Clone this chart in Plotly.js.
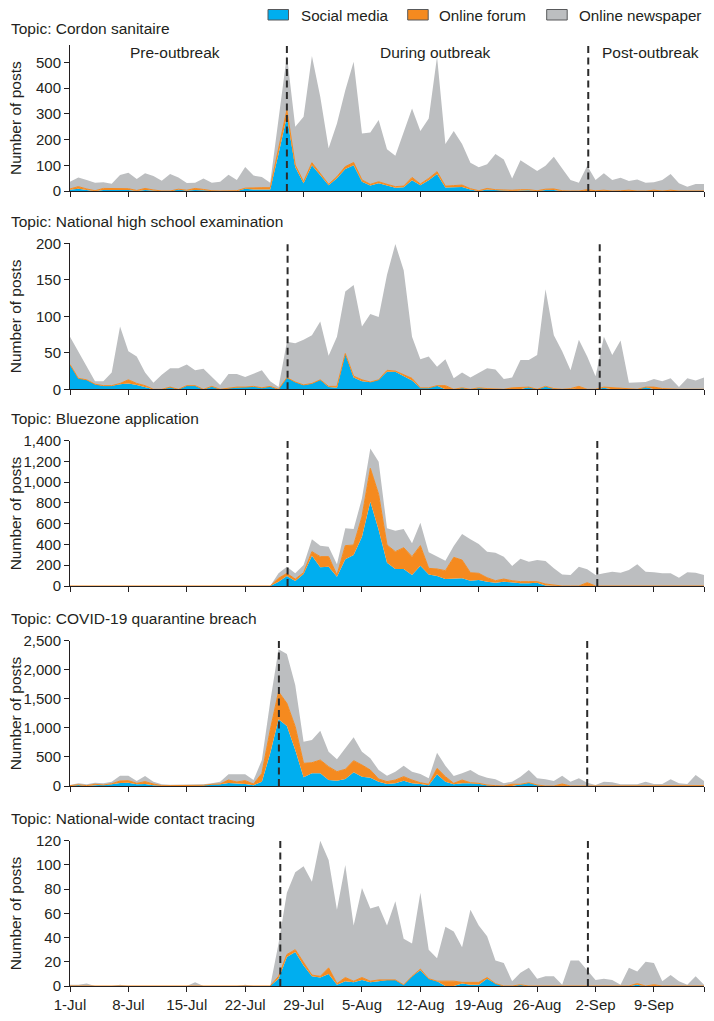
<!DOCTYPE html>
<html><head><meta charset="utf-8">
<script src="https://cdn.plot.ly/plotly-3.0.1.min.js"></script>
<style>html,body{margin:0;padding:0;background:#fff}#chart{width:714px;height:1021px}</style>
</head><body><div id="chart"></div>
<script>
// ---- categories ----
const startDate = [2020, 6, 1];           // 1-Jul-2020
const nDays = 77;                          // 1-Jul .. 15-Sep
const dates = [];
for (let i = 0; i < nDays; i++) {
  dates.push(new Date(Date.UTC(startDate[0], startDate[1], startDate[2] + i)).toISOString().slice(0, 10));
}
const tickDates = ['2020-07-01','2020-07-08','2020-07-15','2020-07-22','2020-07-29','2020-08-05','2020-08-12','2020-08-19','2020-08-26','2020-09-02','2020-09-09','2020-09-15'];
const tickLabels = ['1-Jul','8-Jul','15-Jul','22-Jul','29-Jul','5-Aug','12-Aug','19-Aug','26-Aug','2-Sep','9-Sep',''];

const seriesNames = ['Social media','Online forum','Online newspaper'];
const topics = ['Topic: Cordon sanitaire','Topic: National high school examination','Topic: Bluezone application','Topic: COVID-19 quarantine breach','Topic: National-wide contact tracing'];
const yMax = [568, 200, 1400, 2500, 120];
const yStep = [100, 50, 200, 500, 20];
const outbreakStart = ['2020-07-27 00:00','2020-07-27 02:00','2020-07-27 02:00','2020-07-26 01:00','2020-07-26 05:00'];
const outbreakEnd = ['2020-09-01 03:00','2020-09-02 12:00','2020-09-02 05:00','2020-09-01 00:00','2020-09-01 02:00'];
const periodLabels = ['Pre-outbreak','During outbreak','Post-outbreak'];

// ---- Topic 1: Cordon sanitaire ----
const social1 = [5,9,4,0,4,4,4,4,0,4,2,0,0,6,2,4,3,0,0,0,0,9,6,6,6,145,290,92,30,100,62,22,50,86,100,36,21,30,21,13,15,42,22,42,66,14,15,16,6,0,6,4,1,0,2,3,0,4,4,0,0,0,0,0,0,0,0,0,0,0,0,0,0,0,0,0,0];
const forum1  = [3,8,4,1,6,5,5,5,2,6,2,0,0,1,1,6,3,1,0,0,1,2,7,7,7,18,25,9,6,10,7,4,6,9,11,7,5,6,5,4,4,11,5,7,9,5,6,7,3,1,4,1,3,3,3,2,1,3,4,1,0,0,5,1,3,0,1,3,0,0,3,0,3,0,0,0,0];
const news1   = [28,36,35,31,24,19,53,62,45,59,54,40,66,46,28,22,43,31,36,63,42,82,47,41,19,117,213,149,253,415,298,140,207,297,392,181,202,240,136,120,211,268,206,233,447,164,212,160,101,91,94,139,119,46,115,93,77,91,125,87,43,32,93,42,66,43,51,36,45,32,31,43,63,30,17,27,27];

// ---- Topic 2: National high school examination ----
const social2 = [34,15,13,7,5,5,7,8,6,3,0,0,3,0,5,5,0,4,0,2,3,3,4,2,4,0,16,10,6,8,13,3,2,49,16,11,10,13,24,24,18,12,2,2,5,0,0,2,0,2,1,0,0,0,0,3,0,4,1,0,1,0,0,0,2,0,0,0,0,3,0,0,0,0,0,0,0];
const forum2  = [0,0,0,0,0,0,1,5,2,2,0,0,0,0,0,0,0,0,0,0,0,0,0,0,0,0,0,0,0,0,0,1,2,0,2,2,0,0,2,1,2,3,0,0,0,5,0,0,0,0,0,0,0,2,2,0,0,0,0,0,0,4,0,0,1,2,1,0,0,0,3,1,0,0,0,0,0];
const news2   = [38,37,18,4,6,18,78,39,37,18,9,20,26,29,29,21,28,13,6,19,18,14,17,24,7,3,49,53,62,66,80,42,68,85,125,73,93,86,131,174,143,57,39,43,26,36,15,21,16,21,28,27,14,14,38,37,47,133,73,52,25,64,45,18,69,45,66,9,10,7,11,10,15,3,15,12,16];

// ---- Topic 3: Bluezone application ----
const social3 = [0,0,0,0,0,0,0,0,0,0,0,0,0,0,0,0,0,0,0,0,0,0,0,0,0,42,96,48,116,292,180,186,90,257,299,475,812,540,225,164,164,106,196,112,96,67,67,74,51,58,42,32,42,32,26,26,32,6,0,0,0,0,0,0,0,0,0,0,0,0,0,0,0,0,0,0,0];
const forum3  = [0,0,0,0,0,0,0,0,0,0,0,0,0,0,0,0,0,0,0,0,0,0,0,0,0,32,26,19,12,39,103,97,16,132,96,193,322,343,170,167,205,177,193,58,68,81,209,176,77,64,38,19,25,19,16,16,10,13,6,0,0,0,32,0,0,0,0,0,5,5,0,0,0,0,0,0,0];
const news3   = [0,0,0,0,0,0,3,0,0,0,0,0,0,0,0,0,0,0,0,0,0,0,0,0,0,48,64,55,74,119,106,96,103,167,154,177,192,315,161,202,180,128,221,154,119,96,109,251,322,283,251,270,216,142,221,192,208,222,164,112,106,186,129,106,122,138,128,154,204,133,132,122,122,80,132,128,106];

// ---- Topic 4: COVID-19 quarantine breach ----
const social4 = [6,17,6,12,12,29,52,57,29,34,12,6,6,6,12,6,12,29,29,52,46,34,12,75,562,1147,1032,619,149,218,218,103,92,120,235,161,143,75,34,46,92,46,34,12,201,75,29,46,46,40,12,6,0,0,29,57,17,0,0,0,0,0,0,0,0,0,0,0,0,0,0,0,0,0,0,0,0];
const forum4  = [0,5,0,17,5,10,34,35,17,41,22,0,0,0,0,0,0,0,6,51,23,58,22,143,401,476,390,402,241,183,229,230,155,167,201,200,132,45,41,57,69,57,23,17,103,86,17,57,11,6,5,0,0,30,0,0,0,0,0,34,0,0,0,0,0,0,0,0,6,0,0,0,0,0,0,6,6];
const news4   = [11,24,23,28,29,36,92,86,40,97,41,23,17,17,22,28,17,17,40,98,132,109,69,229,488,728,849,716,373,390,505,258,212,361,401,230,201,155,103,144,189,144,149,103,269,189,126,115,218,143,126,109,46,45,132,218,115,115,86,144,75,132,57,17,75,63,29,29,23,75,34,34,115,46,34,183,80];

// ---- Topic 5: National-wide contact tracing ----
const social5 = [0,0,0,0,0,0,0,0,0,0,0,0,0,0,0,0,0,0,0,0,0,0,0,0,0,6,24,28,17,8,7,10,1,4,3,5,3,4,5,5,1,8,13,6,4,0,0,2,1,1,6,2,0,0,1,0,0,0,0,0,0,0,0,0,0,0,0,0,1,0,0,0,0,0,0,0,0];
const forum5  = [0,0,0,0,0,0,0,0,0,0,0,0,0,0,0,0,0,0,0,0,0,0,0,0,0,2,2,2,2,1,1,5,1,3,1,2,1,1,0,0,0,0,1,0,0,4,4,1,2,2,1,0,0,0,0,0,0,0,0,0,0,0,0,0,0,0,0,0,1,0,1,0,0,0,0,0,0];
const news5   = [1,1,2,0,0,0,1,0,0,0,0,0,0,0,0,3,0,0,0,0,0,1,0,0,0,27,51,64,80,77,112,89,61,93,46,74,60,61,45,65,38,27,63,24,19,45,41,29,60,47,34,19,19,4,10,15,6,8,8,1,21,21,13,5,6,5,1,15,10,20,18,4,9,4,1,8,1];

const panels = [
  [social1, forum1, news1],
  [social2, forum2, news2],
  [social3, forum3, news3],
  [social4, forum4, news4],
  [social5, forum5, news5]
];

// ---- styling ----
const colors = ['#00aeef', '#f58a1f', '#bcbec0'];
const lineW = [0, 1, 0];
const ink = '#231f20';
const FONT = 'Liberation Sans, Arial, Helvetica, sans-serif';
const TXT = 15.5, TICK = 15;
const W = 714, H = 1021, ML = 70, MR = 10;
const panelTop = [45, 243.3, 440.7, 640.7, 840.7];
const panelBot = [191, 389.3, 586, 786, 986];
const titleY = [29, 221, 418, 618, 818];
const px2x = px => (px - ML) / (W - ML - MR);
const px2y = py => 1 - py / H;

const traces = [];
const layout = {
  width: W, height: H,
  margin: {l: ML, r: MR, t: 0, b: 0},
  paper_bgcolor: '#fff', plot_bgcolor: '#fff',
  showlegend: false,
  font: {family: FONT, size: TXT, color: ink},
  shapes: [], annotations: []
};

panels.forEach((series, p) => {
  const k = p === 0 ? '' : String(p + 1);
  series.forEach((vals, s) => {
    traces.push({
      type: 'scatter', mode: 'lines', x: dates, y: vals,
      name: seriesNames[s], stackgroup: 'g' + p,
      xaxis: 'x' + k, yaxis: 'y' + k,
      fillcolor: colors[s],
      line: {color: colors[s], width: lineW[s], shape: 'linear'},
      hoverinfo: 'skip', showlegend: false
    });
  });
  const dom = [px2y(panelBot[p]), px2y(panelTop[p])];
  layout['xaxis' + k] = {
    type: 'date', domain: [0, 1], anchor: 'y' + k,
    range: ['2020-07-01', '2020-09-15'],
    tickmode: 'array', tickvals: tickDates, ticktext: tickLabels,
    showticklabels: p === 4,
    ticks: 'outside', ticklen: 5, tickwidth: 1, tickcolor: ink,
    showline: true, linecolor: ink, linewidth: 1,
    showgrid: false, zeroline: false, fixedrange: true,
    tickfont: {family: FONT, size: TICK, color: ink}
  };
  layout['yaxis' + k] = {
    domain: dom, anchor: 'x' + k,
    range: [0, yMax[p]], tick0: 0, dtick: yStep[p], tickformat: ',d',
    ticks: 'outside', ticklen: 5, tickwidth: 1, tickcolor: ink,
    showline: true, linecolor: ink, linewidth: 1,
    showgrid: false, zeroline: false, fixedrange: true,
    tickfont: {family: FONT, size: TICK, color: ink}
  };
  // outbreak period markers
  [outbreakStart[p], outbreakEnd[p]].forEach(d => {
    layout.shapes.push({
      type: 'line', xref: 'x' + k, yref: 'y' + k + ' domain',
      x0: d, x1: d, y0: 0, y1: 1,
      line: {color: '#2b2b2b', width: 2, dash: '7px,4.5px'}
    });
  });
  // topic title
  layout.annotations.push({
    xref: 'paper', yref: 'paper', x: px2x(9), y: px2y(titleY[p]),
    xanchor: 'left', yanchor: 'middle', showarrow: false,
    text: topics[p], font: {family: FONT, size: TXT, color: ink}
  });
  // y axis title
  layout.annotations.push({
    xref: 'paper', yref: 'paper', x: px2x(15), y: px2y((panelTop[p] + panelBot[p]) / 2),
    xanchor: 'center', yanchor: 'middle', showarrow: false, textangle: -90,
    text: 'Number of posts', font: {family: FONT, size: TXT, color: ink}
  });
});

// period labels (top panel)
const periodX = [175, 435, 650];
periodLabels.forEach((t, i) => {
  layout.annotations.push({
    xref: 'paper', yref: 'paper', x: px2x(periodX[i]), y: px2y(52),
    xanchor: 'center', yanchor: 'middle', showarrow: false,
    text: t, font: {family: FONT, size: TXT, color: ink}
  });
});

// legend (top)
const legBoxX = [268, 407.7, 546.7];
const legTextX = [298.5, 437, 576.5];
seriesNames.forEach((n, i) => {
  layout.shapes.push({
    type: 'rect', xref: 'paper', yref: 'paper',
    x0: px2x(legBoxX[i]), x1: px2x(legBoxX[i] + 20.5), y0: px2y(20), y1: px2y(9.5),
    fillcolor: colors[i], line: {color: '#58595b', width: 1}
  });
  layout.annotations.push({
    xref: 'paper', yref: 'paper', x: px2x(legTextX[i]), y: px2y(15),
    xanchor: 'left', yanchor: 'middle', showarrow: false,
    text: n, font: {family: FONT, size: 15.2, color: ink}
  });
});

Plotly.newPlot('chart', traces, layout, {staticPlot: true, displayModeBar: false});
</script>
</body></html>
